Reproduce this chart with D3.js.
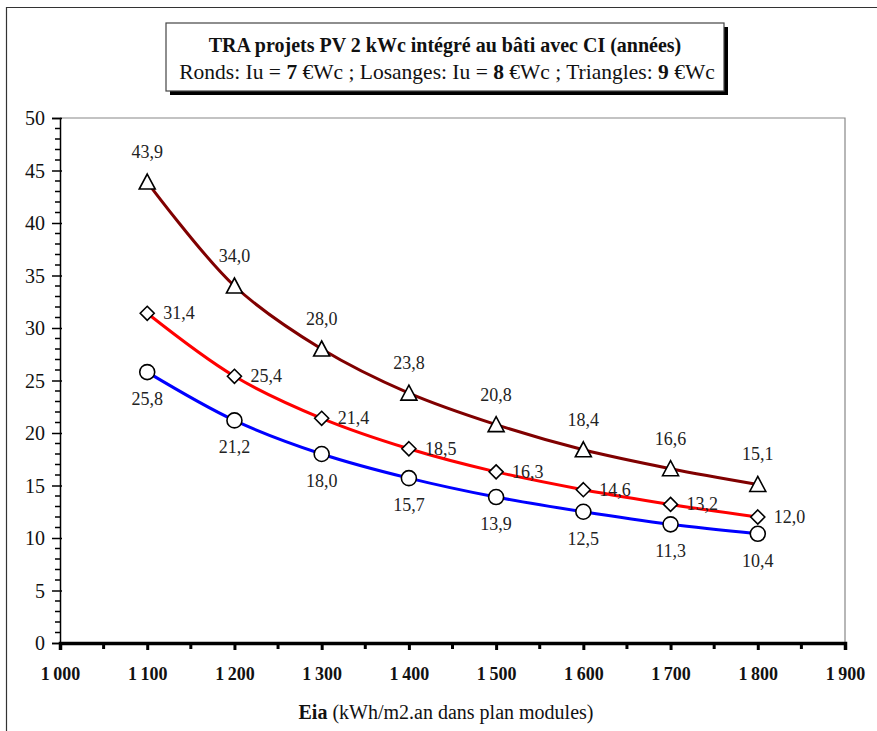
<!DOCTYPE html>
<html><head><meta charset="utf-8">
<script src="https://cdn.jsdelivr.net/npm/d3@7/dist/d3.min.js"></script>
<style>body{margin:0;background:#fff}svg{display:block}text{font-family:"Liberation Serif","Times New Roman",serif}</style>
</head><body>
<svg id="c" width="877" height="731"></svg>
<script>
const xValues = [1100, 1200, 1300, 1400, 1500, 1600, 1700, 1800];
const ronds = [25.8, 21.2, 18.0, 15.7, 13.9, 12.5, 11.3, 10.4];
const losanges = [31.4, 25.4, 21.4, 18.5, 16.3, 14.6, 13.2, 12.0];
const triangles = [43.9, 34.0, 28.0, 23.8, 20.8, 18.4, 16.6, 15.1];
const xTicks = [1000, 1100, 1200, 1300, 1400, 1500, 1600, 1700, 1800, 1900];
const yTicks = [0, 5, 10, 15, 20, 25, 30, 35, 40, 45, 50];

const svg = d3.select("#c");
const L = 60, R = 845, T = 118, B = 643;
const x = d3.scaleLinear().domain([1000, 1900]).range([L, R]);
const y = d3.scaleLinear().domain([0, 50]).range([B, T]);
const fmt = v => v.toFixed(1).replace(".", ",");
const fmtX = v => { const s = String(v); return s.length > 3 ? s.slice(0, s.length - 3) + "\u2009" + s.slice(-3) : s; };

// outer frame
svg.append("line").attr("x1", 6).attr("x2", 877).attr("y1", 7.5).attr("y2", 7.5).attr("stroke", "#333").attr("stroke-width", 1.2);
svg.append("line").attr("x1", 6.5).attr("x2", 6.5).attr("y1", 7).attr("y2", 731).attr("stroke", "#333").attr("stroke-width", 1.2);

// plot border (top/right gray)
svg.append("path").attr("d", `M${L},${T}H${R}V${B}`).attr("fill", "none").attr("stroke", "#888").attr("stroke-width", 1.2);

// y axis
const yAxis = d3.axisLeft(y).tickValues(yTicks).tickSize(8).tickPadding(8).tickFormat(d3.format("d"));
const gy = svg.append("g").attr("transform", `translate(${L},0)`).call(yAxis);
gy.select(".domain").attr("stroke", "#000").attr("stroke-width", 1.5);
gy.selectAll(".tick line").attr("stroke", "#000").attr("stroke-width", 1.5).attr("x2", -8).attr("x1", 2);
gy.selectAll(".tick text").attr("font-size", 20).attr("fill", "#111").attr("dy", "0.33em").attr("x", -15);
const yMinor = d3.range(0, 51).filter(v => v % 5 !== 0);
svg.append("g").selectAll("line").data(yMinor).join("line")
  .attr("x1", L - 5).attr("x2", L).attr("y1", d => y(d)).attr("y2", d => y(d))
  .attr("stroke", "#000").attr("stroke-width", 1.5);

// x axis
const xAxis = d3.axisBottom(x).tickValues(xTicks).tickSize(7).tickPadding(17).tickFormat(fmtX);
const gx = svg.append("g").attr("transform", `translate(0,${B})`).call(xAxis);
gx.select(".domain").attr("stroke", "#000").attr("stroke-width", 3.5);
gx.selectAll(".tick line").attr("stroke", "#000").attr("stroke-width", 3);
gx.selectAll(".tick text").attr("font-size", 18).attr("font-weight", "bold").attr("fill", "#111");
const xMinor = d3.range(1050, 1900, 100);
svg.append("g").selectAll("line").data(xMinor).join("line")
  .attr("x1", d => x(d)).attr("x2", d => x(d)).attr("y1", B).attr("y2", B + 6)
  .attr("stroke", "#000").attr("stroke-width", 3);

// x axis title
const xt = svg.append("text").attr("x", 446).attr("y", 719).attr("text-anchor", "middle").attr("font-size", 20).attr("fill", "#111");
xt.append("tspan").attr("font-weight", "bold").text("Eia");
xt.append("tspan").text(" (kWh/m2.an dans plan modules)");

// series
const series = [
  { name: "ronds", values: ronds, color: "#0000ff", shape: "circle" },
  { name: "losanges", values: losanges, color: "#ff0000", shape: "diamond" },
  { name: "triangles", values: triangles, color: "#800000", shape: "triangle" }
];
const line = d3.line().x(d => x(d[0])).y(d => y(d[1])).curve(d3.curveCatmullRom.alpha(0.5));
series.forEach(s => {
  const pts = xValues.map((v, i) => [v, s.values[i]]);
  svg.append("path").datum(pts).attr("d", line).attr("fill", "none").attr("stroke", s.color).attr("stroke-width", 3);
});
series.forEach(s => {
  const pts = xValues.map((v, i) => [v, s.values[i]]);
  const g = svg.append("g");
  pts.forEach(p => {
    const cx = x(p[0]), cy = y(p[1]);
    if (s.shape === "circle") {
      g.append("circle").attr("cx", cx).attr("cy", cy).attr("r", 7.5).attr("fill", "#fff").attr("stroke", "#000").attr("stroke-width", 1.6);
      g.append("text").attr("x", cx).attr("y", cy + 33).attr("text-anchor", "middle").attr("font-size", 18).attr("fill", "#222").text(fmt(p[1]));
    } else if (s.shape === "diamond") {
      g.append("path").attr("d", `M${cx},${cy - 7}L${cx + 7},${cy}L${cx},${cy + 7}L${cx - 7},${cy}Z`).attr("fill", "#fff").attr("stroke", "#000").attr("stroke-width", 1.6);
      g.append("text").attr("x", cx + 16).attr("y", cy + 6).attr("text-anchor", "start").attr("font-size", 18).attr("fill", "#222").text(fmt(p[1]));
    } else {
      g.append("path").attr("d", `M${cx},${cy - 8}L${cx + 8},${cy + 7}L${cx - 8},${cy + 7}Z`).attr("fill", "#fff").attr("stroke", "#000").attr("stroke-width", 1.6);
      g.append("text").attr("x", cx).attr("y", cy - 24).attr("text-anchor", "middle").attr("font-size", 18).attr("fill", "#222").text(fmt(p[1]));
    }
  });
});

// title box
const bx = 166, by = 23, bw = 558, bh = 68;
svg.append("rect").attr("x", bx + 4).attr("y", by + 4).attr("width", bw).attr("height", bh).attr("fill", "#000");
svg.append("rect").attr("x", bx).attr("y", by).attr("width", bw).attr("height", bh).attr("fill", "#fff").attr("stroke", "#444").attr("stroke-width", 1.2);
svg.append("text").attr("x", bx + bw / 2).attr("y", by + 29).attr("text-anchor", "middle").attr("font-size", 20).attr("font-weight", "bold").attr("fill", "#111")
  .text("TRA projets PV 2 kWc intégré au bâti avec CI (années)");
const t2 = svg.append("text").attr("x", bx + bw / 2 + 2).attr("y", by + 56).attr("text-anchor", "middle").attr("font-size", 21.5).attr("fill", "#111");
[["Ronds: Iu = ", false], ["7", true], [" €Wc ; Losanges: Iu = ", false], ["8", true], [" €Wc ; Triangles: ", false], ["9", true], [" €Wc", false]]
  .forEach(([t, b]) => t2.append("tspan").attr("font-weight", b ? "bold" : "normal").text(t));
</script>
</body></html>
